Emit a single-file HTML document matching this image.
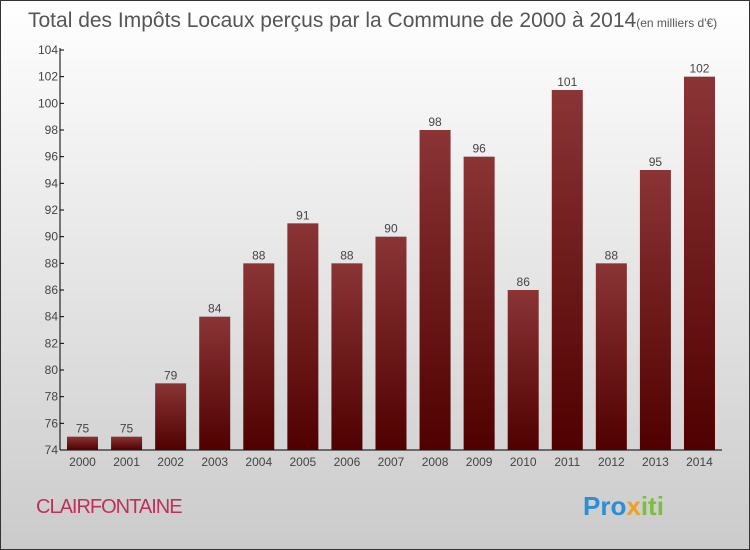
<!DOCTYPE html>
<html><head><meta charset="utf-8"><style>
body{margin:0;width:750px;height:550px;overflow:hidden;font-family:"Liberation Sans",sans-serif}
svg{display:block}
</style></head><body>
<svg width="750" height="550">
<defs>
<linearGradient id="bg" x1="0" y1="0" x2="0" y2="1"><stop offset="0" stop-color="#ffffff"/><stop offset="1" stop-color="#cbcbcb"/></linearGradient>
<linearGradient id="bar" x1="0" y1="0" x2="0" y2="1"><stop offset="0" stop-color="#8a3436"/><stop offset="1" stop-color="#500000"/></linearGradient>
</defs>
<rect x="0.5" y="0.5" width="749" height="549" fill="url(#bg)" stroke="#333"/>
<text x="28" y="27" font-size="21" fill="#555">Total des Impôts Locaux perçus par la Commune de 2000 à 2014<tspan font-size="12">(en milliers d'€)</tspan></text>
<g id="axes"></g>
<g id="bars"></g>
<text x="36" y="513" font-size="20" fill="#c0305a" letter-spacing="-1">CLAIRFONTAINE</text>
<text x="583" y="515" font-size="26" font-weight="bold"><tspan fill="#2a8fd6">Pro</tspan><tspan fill="#f0a020">x</tspan><tspan fill="#7cbf3a">iti</tspan></text>
</svg>
<script>
const years=["2000","2001","2002","2003","2004","2005","2006","2007","2008","2009","2010","2011","2012","2013","2014"];
const values=[75,75,79,84,88,91,88,90,98,96,86,101,88,95,102];
const yTicks=[74,76,78,80,82,84,86,88,90,92,94,96,98,100,102,104];
const NS="http://www.w3.org/2000/svg";
const y0=450,y1=50,vmin=74,vmax=104;
function yS(v){return y0-(v-vmin)/(vmax-vmin)*(y0-y1);}
function xS(i){return 67+i*44.07;}
const bw=31;
function mk(t,a,p){const e=document.createElementNS(NS,t);for(const k in a)e.setAttribute(k,a[k]);p.appendChild(e);return e;}
const ax=document.getElementById('axes'),bg=document.getElementById('bars');
const yl=mk('line',{x1:60,y1:y1-2,x2:60,y2:y0,stroke:'#000'},ax);


const xl=mk('line',{x1:60,y1:y0,x2:722,y2:y0,stroke:'#000'},ax);


yTicks.forEach(v=>{
 const y=yS(v);
 mk('line',{x1:60,y1:y,x2:64,y2:y,stroke:'#000'},ax);
 const t=mk('text',{x:58,y:y+4,'text-anchor':'end','font-size':12,fill:'#444'},ax);t.textContent=v;
 
 
});
values.forEach((v,i)=>{
 const x=xS(i),y=yS(v);
 const r=mk('rect',{x:x,y:y,width:bw,height:y0-y,fill:'url(#bar)'},bg);
 
 
 const l=mk('text',{x:x+bw/2,y:y-4,'text-anchor':'middle','font-size':12,fill:'#444'},bg);l.textContent=v;
 
 
 const xt=mk('text',{x:x+bw/2,y:466,'text-anchor':'middle','font-size':12,fill:'#444'},bg);xt.textContent=years[i];
 
 
});
</script>
</body></html>
